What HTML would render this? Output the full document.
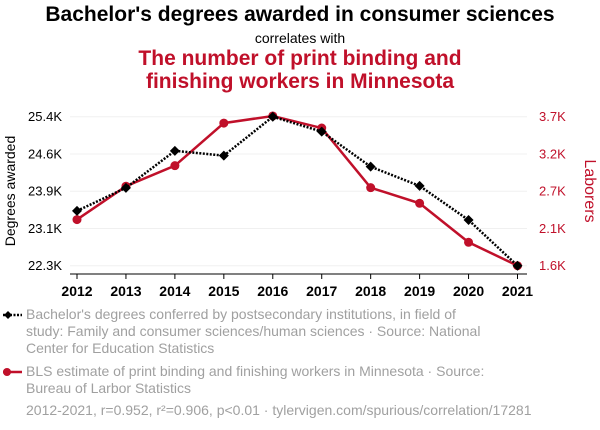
<!DOCTYPE html>
<html><head><meta charset="utf-8"><style>
body{margin:0;background:#fff;font-family:"Liberation Sans",sans-serif;}
#wrap{position:relative;width:600px;height:430px;overflow:hidden;}
.t{position:absolute;left:0;width:600px;text-align:center;}
</style></head><body>
<div id="wrap">
<div class="t" style="top:3px;font-size:21px;font-weight:bold;color:#000;">Bachelor's degrees awarded in consumer sciences</div>
<div class="t" style="top:30px;font-size:14px;color:#000;">correlates with</div>
<div class="t" style="top:47px;font-size:21px;font-weight:bold;color:#c0102a;line-height:23px;">The number of print binding and<br>finishing workers in Minnesota</div>
<svg id="chart" width="600" height="430" style="position:absolute;left:0;top:0"></svg>
<div style="position:absolute;left:0;top:306px;width:600px;font-size:14px;color:#a0a0a0;line-height:17px;">
<div style="position:absolute;left:26px;top:0;width:468px;">Bachelor's degrees conferred by postsecondary institutions, in field of study: Family and consumer sciences/human sciences · Source: National Center for Education Statistics</div>
<div style="position:absolute;left:26px;top:57px;width:468px;">BLS estimate of print binding and finishing workers in Minnesota · Source: Bureau of Larbor Statistics</div>
<div style="position:absolute;left:26px;top:96px;width:560px;">2012-2021, r=0.952, r²=0.906, p&lt;0.01 · tylervigen.com/spurious/correlation/17281</div>
</div>
</div>
<script>
const years=[2012,2013,2014,2015,2016,2017,2018,2019,2020,2021];
const degrees=[23.44,23.92,24.69,24.59,25.4,25.09,24.36,23.96,23.25,22.3];
const workers=[2.25,2.72,3.01,3.61,3.71,3.54,2.70,2.48,1.93,1.6];
const leftTicks=[22.3,23.1,23.9,24.6,25.4];
const rightTicks=[1.6,2.1,2.7,3.2,3.7];
const NS="http://www.w3.org/2000/svg";
const svg=document.getElementById('chart');
const x0=77,x1=517.5,yTop=116.7,yBot=265.7;
const xs=y=>x0+(y-years[0])/(years[years.length-1]-years[0])*(x1-x0);
const yl=v=>yBot-(v-22.3)/(25.4-22.3)*(yBot-yTop);
const yr=v=>yBot-(v-1.6)/(3.7-1.6)*(yBot-yTop);
function el(t,a){const e=document.createElementNS(NS,t);for(const k in a)e.setAttribute(k,a[k]);svg.appendChild(e);return e;}
leftTicks.forEach((v,i)=>{
 const y=yBot-i*(yBot-yTop)/(leftTicks.length-1);
 const g=el('line',{x1:70,x2:527,y1:y,y2:y,stroke:'#f0f0f0','stroke-width':1});
 
 const t=el('text',{x:62,y:y+4.5,'text-anchor':'end','font-size':13,fill:'#000'});t.textContent=v.toFixed(1)+'K';
 
});
rightTicks.forEach((v,i)=>{
 const y=yBot-i*(yBot-yTop)/(rightTicks.length-1);
 const t=el('text',{x:539,y:y+4.5,'text-anchor':'start','font-size':13,fill:'#c0102a'});t.textContent=v.toFixed(1)+'K';
 
});
const ax=el('line',{x1:70,x2:527,y1:274,y2:274,stroke:'#000','stroke-width':1});

years.forEach(yv=>{
 const x=xs(yv);
 const tk=el('line',{x1:x,x2:x,y1:274,y2:279,stroke:'#000'});
 
 const t=el('text',{x:x,y:296,'text-anchor':'middle','font-size':14,'font-weight':'bold',fill:'#000'});t.textContent=yv;
 
});
const lt=el('text',{transform:'translate(15,191) rotate(-90)','text-anchor':'middle','font-size':14,fill:'#000'});lt.textContent='Degrees awarded';

const rt=el('text',{transform:'translate(585,191) rotate(90)','text-anchor':'middle','font-size':16,fill:'#c0102a'});rt.textContent='Laborers';

const rp=el('polyline',{points:years.map((y,i)=>xs(y)+','+yr(workers[i])).join(' '),fill:'none',stroke:'#c0102a','stroke-width':2.5});

years.forEach((y,i)=>{const c=el('circle',{cx:xs(y),cy:yr(workers[i]),r:4.5,fill:'#c0102a'});
 });
const bp=el('polyline',{points:years.map((y,i)=>xs(y)+','+yl(degrees[i])).join(' '),fill:'none',stroke:'#000','stroke-width':2.5,'stroke-dasharray':'2,1.5'});

years.forEach((y,i)=>{const x=xs(y),yy=yl(degrees[i]);
 const d=el('polygon',{points:`${x},${yy-5} ${x+5},${yy} ${x},${yy+5} ${x-5},${yy}`,fill:'#000'});
 });
const lm1=el('line',{x1:3,x2:22,y1:315,y2:315,stroke:'#000','stroke-width':2.5,'stroke-dasharray':'2,1.5'});

const lm1d=el('polygon',{points:'8,311 12,315 8,319 4,315',fill:'#000'});

const lm2=el('line',{x1:3,x2:22,y1:372,y2:372,stroke:'#c0102a','stroke-width':2.5});

const lm2c=el('circle',{cx:7,cy:372,r:4,fill:'#c0102a'});

</script>
</body></html>
